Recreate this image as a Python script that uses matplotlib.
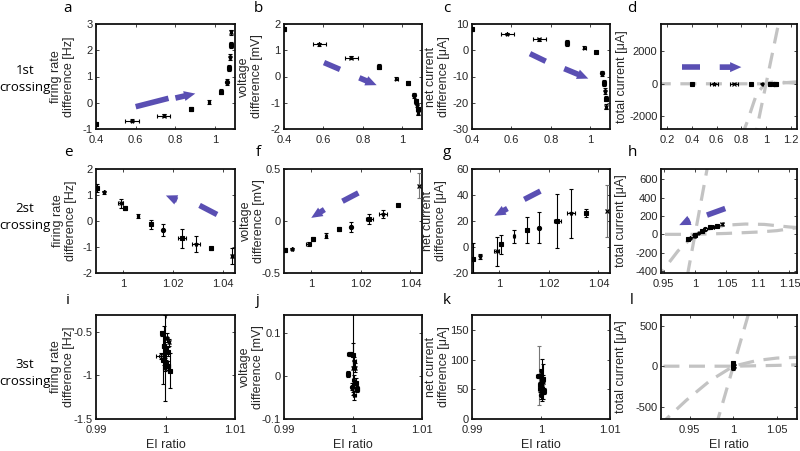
import numpy as np
import matplotlib.pyplot as plt
from matplotlib.ticker import FuncFormatter

plt.rcParams['font.family'] = ['Liberation Sans', 'DejaVu Sans']
plt.rcParams['axes.unicode_minus'] = False

# ---- row 1 (1st crossing) ----
ei1 = [0.40, 0.58, 0.74, 0.88, 0.97, 1.03, 1.06, 1.07, 1.075, 1.08, 1.08]
ei1_err = [0.005, 0.035, 0.033, 0.008, 0.006, 0.006, 0.006, 0.006, 0.006, 0.006, 0.006]
fr1 = [-0.82, -0.68, -0.5, -0.25, 0.03, 0.42, 0.8, 1.32, 1.75, 2.2, 2.68]
fr1_err = [0.08, 0.05, 0.06, 0.08, 0.08, 0.1, 0.12, 0.12, 0.12, 0.1, 0.1]
v1 = [1.8, 1.23, 0.72, 0.38, -0.08, -0.25, -0.72, -0.95, -1.1, -1.25, -1.38]
v1_err = [0.08, 0.05, 0.06, 0.1, 0.06, 0.08, 0.1, 0.08, 0.08, 0.08, 0.08]
net1 = [8, 6.2, 4.2, 2.8, 0.9, -0.65, -8.8, -12.5, -15.5, -18.5, -21.5]
net1_err = [0.6, 0.5, 0.6, 1.0, 0.6, 0.5, 1.0, 1.2, 1.0, 1.0, 1.0]
tot1 = [0, 10, 15, 10, 0, -10, -20, -25, -30, -35, -40]
tot1_err = [20, 20, 20, 20, 20, 20, 20, 20, 20, 20, 20]

# ---- row 2 (2st crossing) ----
ei2 = [0.9895, 0.9924, 0.9989, 1.0006, 1.0058, 1.0112, 1.016, 1.0235, 1.029, 1.035, 1.0436]
ei2_err = [0.0003, 0.0003, 0.001, 0.0004, 0.0004, 0.0004, 0.0004, 0.0015, 0.0015, 0.0004, 0.0004]
fr2 = [1.26, 1.1, 0.68, 0.49, 0.19, -0.13, -0.35, -0.67, -0.88, -1.05, -1.35]
fr2_err = [0.15, 0.05, 0.18, 0.08, 0.08, 0.18, 0.22, 0.35, 0.3, 0.05, 0.3]
v2 = [-0.28, -0.27, -0.22, -0.17, -0.14, -0.08, -0.06, 0.02, 0.07, 0.15, 0.34]
v2_err = [0.02, 0.01, 0.02, 0.02, 0.02, 0.02, 0.05, 0.05, 0.04, 0.01, 0.12]
net2 = [-9, -7.3, -3.4, 2, 8.3, 12.9, 15, 20, 25.8, 26, 28]
net2_err = [12, 2, 11, 7, 5, 10, 12, 21, 19, 3, 20]
tot2 = [-50, -38, -15, -5, 20, 40, 55, 75, 85, 95, 110]
tot2_err = [10, 10, 10, 10, 10, 10, 10, 10, 10, 10, 10]

# ---- row 3 (3st crossing) ----
ei3_i = [0.9995, 1.0002, 1.0005, 0.9998, 1.0, 1.0003, 0.9993, 0.9997, 1.0001, 1.0004, 0.9999, 1.0006, 0.99995]
ei3_i_err = [0.0002, 0.0002, 0.0002, 0.0003, 0.0002, 0.0002, 0.0007, 0.0002, 0.0002, 0.0002, 0.0002, 0.0002, 0.0001]
fr3 = [-0.52, -0.57, -0.62, -0.66, -0.70, -0.73, -0.78, -0.82, -0.86, -0.89, -0.92, -0.95, -0.80]
fr3_err = [0.03, 0.05, 0.04, 0.22, 0.03, 0.05, 0.03, 0.28, 0.04, 0.05, 0.03, 0.2, 0.49]

ei3_j = [0.9995, 1.0002, 1.0003, 0.9993, 1.0001, 1.0004, 0.9999, 1.0006, 1.0002, 0.99995, 1.0]
ei3_j_err = [0.0003, 0.0002, 0.0002, 0.0002, 0.0003, 0.0002, 0.0002, 0.0002, 0.0002, 0.0001, 0.0002]
v3 = [0.052, 0.035, 0.02, 0.005, -0.008, -0.015, -0.025, -0.03, -0.045, 0.05, 0.02]
v3_err = [0.005, 0.01, 0.01, 0.008, 0.01, 0.01, 0.008, 0.008, 0.01, 0.095, 0.057]

ei3_k = [0.99975, 1.0, 1.0003, 0.9999, 1.0002, 1.0004, 1.0, 1.0003, 0.9998, 1.0001, 0.99965]
ei3_k_err = [0.0001, 0.0002, 0.0002, 0.0002, 0.0002, 0.0002, 0.0002, 0.0002, 0.0002, 0.0002, 0.0004]
net3 = [73, 80, 63, 58, 52, 47, 41, 68, 50, 66, 72]
net3_err = [49, 4, 30, 5, 6, 5, 8, 6, 5, 35, 3]

ei3_l = [0.9998, 1.0, 1.0002, 0.9999, 1.0001]
tot3 = [35, 20, 5, -10, -25]
tot3_err = [10, 10, 15, 10, 20]

# grey dashed reference curves (total current vs EI ratio)
steep_x = [0.90, 1.10]
steep_y = [-3700, 3700]
sat_x = [0.80, 0.85, 0.90, 0.923, 0.946, 0.973, 1.0, 1.027, 1.05, 1.08, 1.11, 1.15, 1.25]
sat_y = [-3300, -2300, -1150, -650, -420, -180, 0, 70, 100, 112, 108, 80, 30]
flat_x = [0.10, 1.0, 1.05, 1.1, 1.13, 1.16, 1.25]
flat_y = [0, 0, 10, 25, 40, 70, 120]

blue = '#5a4fb3'
grey = '#c3c3c3'
ink = '#262626'
mk = ['s', '*', 'x', 's', '.', 's', 'o', 's', '*', 's', 'x', 's', '+']

fig = plt.figure(figsize=(8, 4.51), dpi=100)


def box(l, t, r, b):
    return [l / 800, 1 - b / 451, (r - l) / 800, (b - t) / 451]


lefts = [96, 284, 472, 661]
rights = [235, 422, 610, 797]
tops = [24, 169, 315]
bottoms = [129, 273, 419]
axs = [[fig.add_axes(box(lefts[c], tops[r], rights[c], bottoms[r])) for c in range(4)] for r in range(3)]

# distance (px) from axes left edge to right edge of the y label
label_gap = [[21, 21, 22, 33], [19, 19, 25, 34], [21, 20, 22, 34]]


def style(ax, xlim, ylim, xt, yt):
    ax.set_xlim(xlim)
    ax.set_ylim(ylim)
    ax.set_xticks(xt)
    ax.set_yticks(yt)
    ax.xaxis.set_major_formatter(FuncFormatter(lambda v, p: '%g' % round(v, 4)))
    ax.yaxis.set_major_formatter(FuncFormatter(lambda v, p: '%g' % round(v, 4)))
    ax.tick_params(direction='in', top=True, right=True, length=2.5, width=0.6,
                   labelsize=8, colors=ink, pad=2.5)
    ax.tick_params(axis='x', pad=4)
    for s in ax.spines.values():
        s.set_linewidth(1.3)
        s.set_color('#111111')


def pts(ax, x, y, xe, ye, ms=3, grey_idx=()):
    for i in range(len(x)):
        ec = '#777777' if i in grey_idx else 'k'
        ax.errorbar(x[i], y[i], xerr=xe[i], yerr=ye[i], fmt='none', ecolor=ec,
                    elinewidth=0.8, capsize=1.6, capthick=0.8, zorder=3)
        m = mk[i % len(mk)]
        ax.plot(x[i], y[i], marker=m, color='k', ms=ms,
                mfc='none' if m == 'o' else 'k', mew=0.8, zorder=4)


def arrow(ax, a0, a1, b0, b1):
    ax.plot([a0[0], a1[0]], [a0[1], a1[1]], color=blue, lw=4, solid_capstyle='butt', zorder=2)
    ax.annotate('', xy=b1, xytext=b0,
                arrowprops=dict(arrowstyle='simple,head_length=0.9,head_width=0.8,tail_width=0.45',
                                fc=blue, ec='none', mutation_scale=9, shrinkA=0, shrinkB=0),
                zorder=2)


def curves(ax):
    for cx, cy in [(flat_x, flat_y), (sat_x, sat_y), (steep_x, steep_y)]:
        ax.plot(cx, cy, color=grey, lw=2.3, dashes=(5, 3), zorder=1)


def ylab(ax, r, c, text):
    ax.set_ylabel(text, fontsize=9, color=ink, linespacing=1.1)
    w = rights[c] - lefts[c]
    ax.yaxis.set_label_coords(-label_gap[r][c] / w, 0.5)


# row 1
ax = axs[0][0]
pts(ax, ei1, fr1, ei1_err, fr1_err)
arrow(ax, (0.6, -0.15), (0.765, 0.17), (0.8, 0.18), (0.9, 0.35))
style(ax, (0.4, 1.1), (-1, 3), [0.4, 0.6, 0.8, 1], [-1, 0, 1, 2, 3])
ylab(ax, 0, 0, 'firing rate\ndifference [Hz]')

ax = axs[0][1]
pts(ax, ei1, v1, ei1_err, v1_err)
arrow(ax, (0.603, 0.53), (0.684, 0.27), (0.782, -0.05), (0.87, -0.33))
style(ax, (0.4, 1.1), (-2, 2), [0.4, 0.6, 0.8, 1], [-2, -1, 0, 1, 2])
ylab(ax, 0, 1, 'voltage\ndifference [mV]')

ax = axs[0][2]
pts(ax, ei1, net1, ei1_err, net1_err)
arrow(ax, (0.694, -1.3), (0.774, -4.2), (0.868, -7.0), (0.99, -10.8))
style(ax, (0.4, 1.1), (-30, 10), [0.4, 0.6, 0.8, 1], [-30, -20, -10, 0, 10])
ylab(ax, 0, 2, 'net current\ndifference [\u03bcA]')

ax = axs[0][3]
curves(ax)
pts(ax, ei1, tot1, ei1_err, tot1_err)
arrow(ax, (0.318, 1030), (0.466, 1030), (0.625, 1030), (0.80, 1030))
style(ax, (0.15, 1.25), (-2800, 3700), [0.2, 0.4, 0.6, 0.8, 1, 1.2], [-2000, 0, 2000])
ylab(ax, 0, 3, 'total current [\u03bcA]')

# row 2
x2 = (0.989, 1.0447)
ax = axs[1][0]
pts(ax, ei2, fr2, ei2_err, fr2_err)
arrow(ax, (1.0375, 0.25), (1.0305, 0.6), (1.0215, 0.8), (1.0170, 0.98))
style(ax, x2, (-2, 2), [1, 1.02, 1.04], [-2, -1, 0, 1, 2])
ylab(ax, 1, 0, 'firing rate\ndifference [Hz]')

ax = axs[1][1]
pts(ax, ei2, v2, ei2_err, v2_err, grey_idx=(10,))
arrow(ax, (1.019, 0.27), (1.0126, 0.19), (1.0053, 0.11), (1.0, 0.03))
style(ax, x2, (-0.5, 0.5), [1, 1.02, 1.04], [-0.5, 0, 0.5])
ylab(ax, 1, 1, 'voltage\ndifference [mV]')

ax = axs[1][2]
pts(ax, ei2, net2, ei2_err, net2_err, grey_idx=(10,))
arrow(ax, (1.0166, 43), (1.0101, 36.6), (1.0033, 29.6), (0.998, 24))
style(ax, x2, (-20, 60), [1, 1.02, 1.04], [-20, 0, 20, 40, 60])
ylab(ax, 1, 2, 'net current\ndifference [\u03bcA]')

ax = axs[1][3]
curves(ax)
pts(ax, ei2, tot2, ei2_err, tot2_err)
arrow(ax, (1.048, 281), (1.019, 209), (0.992, 154), (0.975, 100))
style(ax, (0.946, 1.162), (-420, 710), [0.95, 1, 1.05, 1.1, 1.15], [-400, -200, 0, 200, 400, 600])
ylab(ax, 1, 3, 'total current [\u03bcA]')

# row 3
x3 = (0.99, 1.01)
ax = axs[2][0]
pts(ax, ei3_i, fr3, ei3_i_err, fr3_err)
style(ax, x3, (-1.5, -0.31), [0.99, 1, 1.01], [-1.5, -1, -0.5])
ylab(ax, 2, 0, 'firing rate\ndifference [Hz]')

ax = axs[2][1]
pts(ax, ei3_j, v3, ei3_j_err, v3_err)
style(ax, x3, (-0.1, 0.143), [0.99, 1, 1.01], [-0.1, 0, 0.1])
ylab(ax, 2, 1, 'voltage\ndifference [mV]')

ax = axs[2][2]
pts(ax, ei3_k, net3, ei3_k_err, net3_err, grey_idx=(0,))
style(ax, x3, (0, 175), [0.99, 1, 1.01], [0, 50, 100, 150])
ylab(ax, 2, 2, 'net current\ndifference [\u03bcA]')

ax = axs[2][3]
curves(ax)
pts(ax, ei3_l, tot3, [0.0002] * len(ei3_l), tot3_err)
style(ax, (0.917, 1.073), (-650, 630), [0.95, 1, 1.05], [-500, 0, 500])
ylab(ax, 2, 3, 'total current [\u03bcA]')

for ax in axs[2]:
    ax.set_xlabel('EI ratio', fontsize=9, color=ink, labelpad=3)

# panel letters and row titles
letters = 'abcdefghijkl'
lx = [68, 258, 447, 632]
ly = [8, 153, 300]
for r in range(3):
    for c in range(4):
        fig.text(lx[c] / 800, 1 - ly[r] / 451, letters[r * 4 + c], fontsize=11,
                 family=['Open Sans', 'DejaVu Sans'], ha='center', va='center')

for r, name in enumerate(['1st\ncrossing', '2st\ncrossing', '3st\ncrossing']):
    yc = [79, 217, 373][r]
    fig.text(25 / 800, 1 - yc / 451, name, fontsize=9.5, family=['Open Sans', 'DejaVu Sans'],
             ha='center', va='center', linespacing=1.45)

fig.savefig('out.png', dpi=100)
